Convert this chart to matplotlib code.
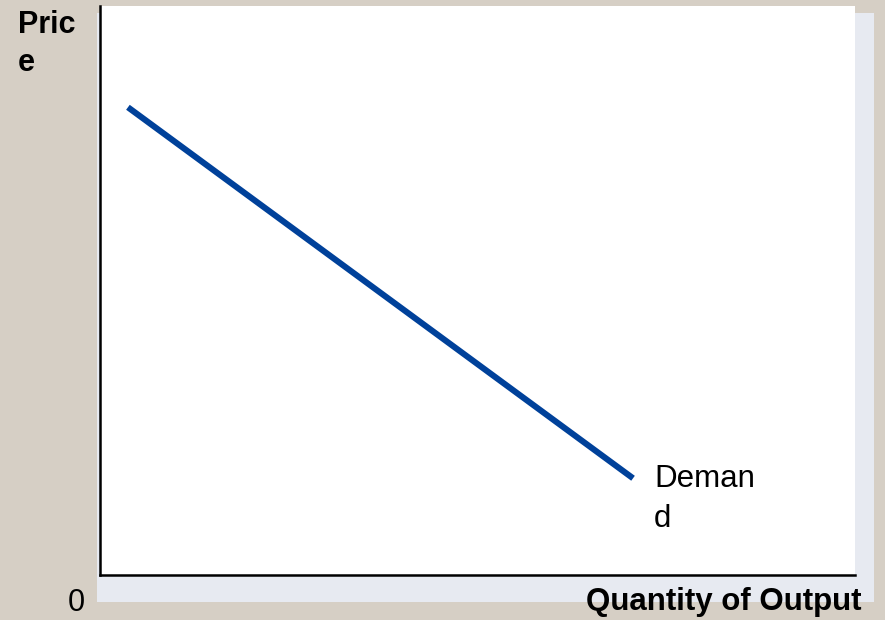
import matplotlib.pyplot as plt
from matplotlib.patches import Rectangle

# demand curve (quantity, price) on a 0-100 scale
quantity = [3.7, 70.6]
price = [82.2, 17.0]
curve_label = "Deman\nd"
x_label = "Quantity of Output"
y_label = "Pric\ne"
origin_label = "0"

W, H = 885, 620
plt.rcParams['font.family'] = ['Liberation Sans', 'DejaVu Sans']

fig = plt.figure(figsize=(W / 100, H / 100), dpi=100)
fig.patch.set_facecolor('#d6cfc5')

# light shadow panel behind the chart
fig.patches.append(Rectangle((97 / W, 1 - 602 / H), (874 - 97) / W, (602 - 13) / H,
                             transform=fig.transFigure, facecolor='#e7eaf1',
                             edgecolor='none', zorder=0))

ax = fig.add_axes([100 / W, 1 - 575 / H, 755 / W, 569 / H])
ax.set_facecolor('white')
ax.set_zorder(1)
ax.plot(quantity, price, color='#00419a', linewidth=4.4, solid_capstyle='butt')
ax.set_xlim(0, 100)
ax.set_ylim(0, 100)
ax.set_xticks([])
ax.set_yticks([])
for s in ['top', 'right']:
    ax.spines[s].set_visible(False)
for s in ['left', 'bottom']:
    ax.spines[s].set_linewidth(1.8)
    ax.spines[s].set_color('black')

# label sits to the lower right of the curve's end
ax.text(quantity[1] + 2.8, price[1] - 8.6, curve_label, fontsize=22.5,
        ha='left', va='baseline', linespacing=1.45)

fig.text(18 / W, 1 - 10 / H, y_label, fontsize=22, fontweight='bold',
         ha='left', va='top', linespacing=1.35)
fig.text(862 / W, 1 - 610 / H, x_label, fontsize=22.5, fontweight='bold',
         ha='right', va='baseline')
fig.text(85 / W, 1 - 611 / H, origin_label, fontsize=22, ha='right', va='baseline')

fig.savefig('out.png', dpi=100)
